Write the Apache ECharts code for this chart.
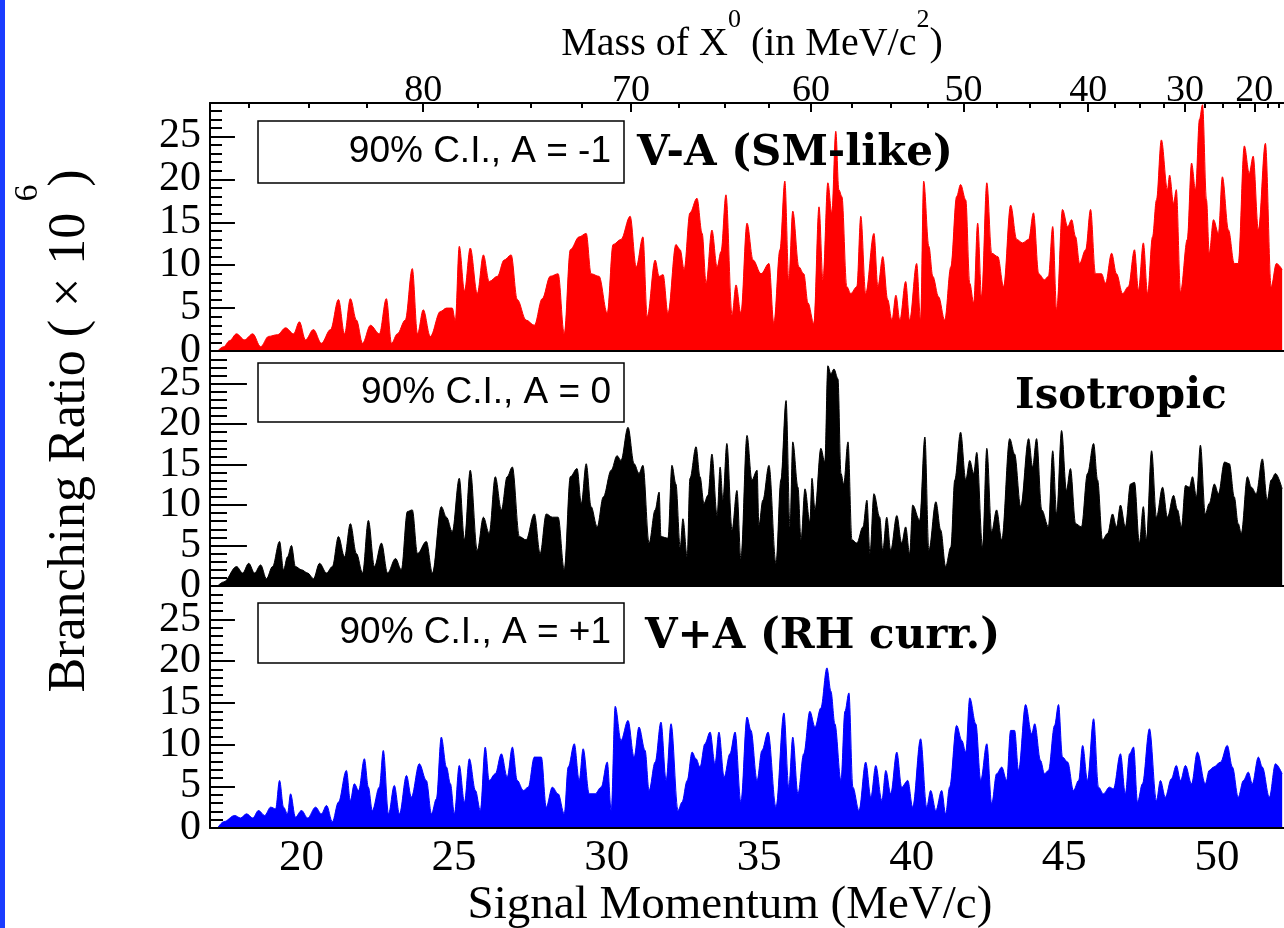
<!DOCTYPE html>
<html>
<head>
<meta charset="utf-8">
<script src="https://cdn.jsdelivr.net/npm/echarts@6/dist/echarts.min.js"></script>
<style>
  html, body { margin: 0; padding: 0; background: #fff; }
  #chart { width: 1284px; height: 928px; }
</style>
</head>
<body>
<div id="chart"></div>
<script>
// momentum (MeV/c) and 90% C.L. upper limit (x 10^-6)
const redP = [17.25,17.45,17.64,17.87,18.13,18.40,18.66,18.92,19.21,19.48,19.74,19.93,20.13,20.39,20.65,20.95,21.21,21.41,21.60,21.80,22.00,22.26,22.55,22.78,22.95,23.14,23.40,23.63,23.80,23.99,24.22,24.55,24.75,24.94,25.04,25.17,25.34,25.53,25.76,25.96,26.15,26.42,26.64,26.87,27.07,27.36,27.63,27.89,28.15,28.41,28.61,28.81,29.10,29.33,29.49,29.75,30.02,30.21,30.47,30.77,30.97,31.19,31.33,31.59,31.72,31.85,32.01,32.27,32.41,32.54,32.73,32.96,33.13,33.26,33.45,33.62,33.75,33.91,34.11,34.24,34.40,34.60,34.80,35.06,35.32,35.48,35.68,35.84,35.97,36.10,36.30,36.46,36.60,36.79,36.96,37.09,37.25,37.38,37.51,37.61,37.71,37.87,38.00,38.20,38.33,38.49,38.76,38.89,39.05,39.21,39.35,39.48,39.61,39.80,39.93,40.16,40.29,40.39,40.56,40.69,40.88,41.08,41.28,41.47,41.60,41.77,41.90,42.03,42.16,42.29,42.46,42.62,42.82,43.01,43.24,43.44,43.63,43.83,43.99,44.16,44.35,44.48,44.62,44.75,44.94,45.11,45.24,45.37,45.50,45.70,45.86,46.02,46.22,46.35,46.55,46.71,46.91,47.10,47.30,47.43,47.59,47.73,47.89,48.02,48.18,48.38,48.45,48.58,48.67,48.81,49.03,49.17,49.30,49.43,49.53,49.66,49.75,49.89,50.05,50.18,50.38,50.57,50.70,50.90,51.06,51.19,51.36,51.59,51.78,51.95,52.14];
const redV = [0,0.5,1.2,2.0,1.3,2.0,0.5,1.7,1.9,2.7,2.0,3.4,1.3,2.5,0.9,2.5,6.0,2.0,6.1,3.6,0.9,3.0,2.0,6.1,0.9,2.0,3.6,9.6,2.0,4.8,1.7,4.6,5.0,5.0,3.5,12.2,7.0,12.0,6.7,11.2,8.1,8.7,10.6,11.2,6.0,3.6,3.0,6.1,8.7,9.0,2.0,11.8,13.3,13.7,9.0,8.7,4.4,12.4,13.0,15.7,9.8,13.3,4.0,10.6,8.7,8.9,4.4,12.4,11.8,9.5,16.1,17.8,13.7,7.9,14.1,9.8,11.6,18.2,4.2,7.7,4.4,14.9,10.6,9.0,10.2,3.2,11.8,19.8,8.3,16.3,9.8,9.0,5.6,3.2,16.8,8.3,19.6,16.1,25.6,18.8,18.0,7.5,6.7,7.5,15.7,6.7,13.7,7.5,11.0,6.0,3.6,6.5,3.6,8.1,3.6,10.2,3.6,19.8,12.2,8.7,6.3,3.6,9.8,18.0,19.4,17.6,7.9,5.6,14.9,6.3,19.6,11.4,11.0,7.5,17.0,13.0,12.6,13.0,16.1,9.0,8.3,8.7,14.5,4.8,16.5,14.5,15.3,13.3,10.2,11.8,16.5,9.0,9.0,7.9,11.4,9.0,6.7,7.5,11.8,7.1,12.6,6.7,13.3,17.6,24.6,18.8,20.5,17.2,18.8,6.9,13.0,21.9,18.8,27.0,28.7,17.6,11.4,15.3,13.7,20.3,14.1,10.2,10.2,23.9,20.7,22.7,14.1,24.2,7.5,10.2,9.5];

const blackP = [17.25,17.45,17.87,18.07,18.27,18.46,18.66,18.85,19.05,19.28,19.41,19.54,19.67,19.80,20.00,20.20,20.39,20.59,20.82,21.01,21.21,21.41,21.60,21.80,22.00,22.19,22.39,22.62,22.82,23.08,23.27,23.47,23.63,23.80,24.09,24.29,24.58,24.75,24.94,25.17,25.34,25.53,25.76,25.96,26.15,26.35,26.55,26.74,26.91,27.14,27.36,27.63,27.82,28.02,28.22,28.41,28.61,28.81,29.03,29.17,29.33,29.49,29.69,29.89,30.15,30.34,30.47,30.70,30.90,31.06,31.19,31.39,31.59,31.72,31.78,32.01,32.14,32.27,32.41,32.50,32.64,32.73,32.93,33.06,33.19,33.32,33.45,33.62,33.72,33.81,33.94,34.11,34.27,34.40,34.60,34.76,34.93,34.99,35.12,35.32,35.55,35.71,35.88,36.01,36.10,36.27,36.37,36.50,36.66,36.73,36.83,37.02,37.15,37.25,37.35,37.45,37.58,37.68,37.77,37.91,38.04,38.20,38.40,38.53,38.63,38.76,38.95,39.05,39.18,39.31,39.51,39.67,39.80,39.93,40.03,40.26,40.43,40.56,40.79,40.95,41.11,41.28,41.41,41.60,41.77,41.90,42.03,42.13,42.32,42.46,42.62,42.78,42.95,43.21,43.37,43.57,43.83,43.96,44.09,44.26,44.48,44.62,44.75,44.91,45.07,45.20,45.37,45.56,45.76,45.96,46.09,46.25,46.42,46.58,46.71,46.84,47.00,47.17,47.30,47.46,47.59,47.69,47.86,48.02,48.22,48.38,48.58,48.71,48.84,48.97,49.10,49.20,49.33,49.46,49.62,49.75,49.92,50.05,50.25,50.41,50.57,50.70,50.80,51.00,51.13,51.29,51.49,51.65,51.78,51.92,52.14];
const blackV = [0,0.5,2.4,1.6,2.8,1.6,2.6,0.9,2.4,5.5,2.0,3.6,5.0,2.4,2.0,1.6,0.9,2.8,1.6,2.4,6.1,3.6,7.7,4.0,1.6,8.1,2.4,5.3,1.6,3.4,2.0,9.2,9.4,4.0,5.5,1.6,9.8,8.5,6.7,13.3,5.7,14.3,4.4,8.5,6.5,13.5,9.4,13.5,14.7,6.1,5.7,8.9,4.0,8.9,8.5,8.5,2.0,13.5,14.5,10.2,15.1,9.8,7.3,11.0,14.3,16.1,15.5,19.6,15.1,13.9,14.9,5.3,9.4,11.6,6.1,5.9,14.9,12.6,4.8,8.3,3.6,13.3,17.2,13.5,10.2,11.2,16.3,8.7,14.7,10.6,17.6,6.9,11.8,3.4,18.6,13.1,14.3,7.5,10.6,14.9,2.8,13.1,22.9,7.3,17.8,12.2,5.7,12.0,7.9,13.3,9.4,17.0,15.3,27.2,26.2,26.8,25.6,13.9,12.6,17.8,5.7,5.3,7.3,10.6,4.0,11.4,8.5,4.4,8.5,4.4,8.7,5.3,7.3,4.0,10.0,8.1,18.4,4.4,10.4,6.9,2.4,4.8,13.1,19.0,13.1,15.5,13.9,16.5,4.8,17.0,6.7,9.4,5.7,18.2,16.3,9.8,18.2,14.7,18.2,9.4,7.3,16.7,8.9,19.2,11.8,14.5,7.7,7.3,13.9,17.6,13.1,5.7,6.5,8.9,7.3,10.0,7.3,12.6,12.8,5.3,9.8,5.7,16.7,8.5,12.2,8.5,11.2,9.4,7.3,12.4,12.2,13.5,11.0,17.4,8.9,10.2,12.6,11.4,15.3,15.1,11.0,7.7,6.5,13.5,12.2,11.4,15.7,10.6,13.1,13.9,12.0];

const blueP = [17.25,17.45,17.81,18.00,18.20,18.40,18.59,18.79,18.99,19.15,19.28,19.41,19.54,19.64,19.80,20.00,20.20,20.46,20.65,20.82,21.01,21.21,21.47,21.60,21.73,21.87,22.06,22.19,22.32,22.55,22.68,22.85,23.04,23.21,23.44,23.60,23.86,24.09,24.26,24.42,24.58,24.75,24.88,25.01,25.17,25.34,25.50,25.70,25.86,26.02,26.15,26.35,26.55,26.74,26.91,27.07,27.27,27.43,27.63,27.86,28.02,28.22,28.41,28.61,28.74,28.94,29.10,29.23,29.43,29.62,29.82,30.02,30.15,30.28,30.47,30.70,30.90,31.06,31.26,31.39,31.59,31.78,31.95,32.11,32.34,32.47,32.64,32.80,32.93,33.06,33.22,33.39,33.55,33.68,33.85,34.04,34.21,34.40,34.60,34.73,34.93,35.09,35.29,35.55,35.81,35.97,36.10,36.27,36.46,36.66,36.83,37.02,37.22,37.35,37.48,37.68,37.81,37.94,38.07,38.27,38.49,38.66,38.82,39.02,39.15,39.31,39.51,39.67,39.87,40.03,40.29,40.49,40.62,40.79,40.98,41.11,41.24,41.47,41.64,41.77,41.90,42.10,42.26,42.46,42.62,42.78,42.95,43.11,43.24,43.37,43.50,43.73,43.93,44.03,44.22,44.35,44.48,44.68,44.81,44.94,45.11,45.30,45.47,45.60,45.76,45.96,46.12,46.28,46.48,46.61,46.84,47.00,47.14,47.27,47.40,47.56,47.79,48.02,48.15,48.31,48.51,48.67,48.81,48.97,49.17,49.36,49.62,49.75,49.89,50.12,50.34,50.51,50.70,50.87,51.03,51.16,51.36,51.49,51.72,51.92,52.14];
const blueV = [0,0.75,1.5,1.2,1.7,1.2,2.1,1.5,2.5,2.3,5.7,2.5,1.7,4.1,1.3,2.1,1.2,2.5,1.7,2.7,0.75,3.1,6.9,3.3,5.3,4.5,8.3,4.9,2.1,4.9,9.3,1.7,5.1,1.7,6.3,3.7,7.7,5.7,1.7,3.5,10.9,7.3,5.3,1.7,7.5,3.1,8.3,4.5,2.1,9.7,5.7,6.5,8.9,6.1,9.7,5.7,4.5,4.9,8.5,8.5,2.5,4.9,4.1,1.7,7.3,10.1,5.7,9.5,4.1,4.1,4.9,7.9,2.1,14.6,10.5,12.9,8.5,12.1,9.3,4.5,7.9,12.7,5.7,12.5,2.1,3.1,5.7,9.1,8.3,7.3,10.1,11.5,7.7,11.5,6.1,8.9,11.5,3.1,13.3,11.7,5.7,9.3,11.5,2.5,13.8,4.9,10.9,4.1,8.9,14.0,12.1,14.4,19.2,16.4,12.5,5.7,14.0,16.2,4.9,2.1,7.9,3.7,7.5,3.3,6.9,4.1,9.1,4.9,5.7,2.5,10.7,2.5,4.5,2.1,4.5,1.7,4.9,12.3,10.5,9.1,15.6,12.5,5.7,10.1,2.9,6.5,7.3,5.7,11.7,11.7,6.9,14.8,11.3,12.5,8.1,6.5,6.9,12.3,14.8,8.5,7.9,4.5,5.7,9.9,5.7,13.1,4.9,4.1,4.9,4.7,8.9,4.1,8.9,9.7,3.1,5.3,11.9,3.3,5.7,3.7,5.9,7.5,5.7,7.5,5.3,9.1,5.3,6.9,7.3,7.9,9.9,7.3,3.7,5.7,6.7,5.3,8.5,7.3,3.7,7.7,6.5];

// tick labels
const pTicks = [20, 25, 30, 35, 40, 45, 50];
const yTicksEven = [0, 10, 20];
const yTicksOdd = [5, 15, 25];
const yMajorTicks = [5, 10, 15, 20, 25];
const yMinorTicks = [1,2,3,4,6,7,8,9,11,12,13,14,16,17,18,19,21,22,23,24,26,27,28];
const massTicks = [80, 70, 60, 50, 40, 30, 20];
const massMinorTicks = [87.5,85,82.5,77.5,75,72.5,67.5,65,62.5,57.5,55,52.5,47.5,45,42.5,37.5,35,32.5,27.5,25,22.5,17.5,15];

const P_MIN = 17, P_MAX = 52.2, Y_MAX = 28.9;
const GRID_W = 1076;
const PX_PER_P = GRID_W / (P_MAX - P_MIN);

// mass <-> momentum scale of the top axis (two-body kinematics fitted to the printed ticks)
const M_EFF = 110.13, P_OFF = 2.02;
const massToP = m => (M_EFF * M_EFF - m * m) / (2 * M_EFF) - P_OFF;
const pToMass = p => Math.sqrt(M_EFF * M_EFF - 2 * M_EFF * (p + P_OFF));

const serif = 'Liberation Serif';
const black = '#000';
const tickStyle = { color: black, width: 2 };
const off = { show: false };

function xLine(gi, pos, label) {
    return {
        type: 'value', gridIndex: gi, min: P_MIN, max: P_MAX, z: 5, position: pos,
        axisLine: { show: true, onZero: false, lineStyle: { color: black, width: 2 } },
        axisTick: off, axisLabel: label || off, splitLine: off
    };
}
function xTicks(gi, pos, values, len) {
    return {
        type: 'value', gridIndex: gi, min: P_MIN, max: P_MAX, z: 5, position: pos,
        axisLine: { show: false, onZero: false },
        axisTick: { show: true, inside: true, length: len, customValues: values, lineStyle: tickStyle },
        axisLabel: off, splitLine: off
    };
}

// y labels are split over two axes so that none of them gets dropped for overlapping
function yLabels(gi, values, withLine) {
    return {
        type: 'value', gridIndex: gi, min: 0, max: Y_MAX, z: 5, position: 'left',
        axisLine: { show: withLine, onZero: false, lineStyle: { color: black, width: 2 } },
        axisTick: off,
        axisLabel: { show: true, customValues: values, showMinLabel: true, showMaxLabel: true,
                     fontFamily: serif, fontSize: 42, color: black, margin: 9 },
        splitLine: off
    };
}
function yTicks(gi, values, len) {
    return {
        type: 'value', gridIndex: gi, min: 0, max: Y_MAX, z: 5, position: 'left',
        axisLine: { show: false, onZero: false },
        axisTick: { show: true, inside: true, length: len, customValues: values, lineStyle: tickStyle },
        axisLabel: off, splitLine: off
    };
}
function yAxesFor(gi, minorLen) {
    return [
        yLabels(gi, yTicksEven, true),
        yLabels(gi, yTicksOdd, false),
        yTicks(gi, yMinorTicks, minorLen)
    ];
}

// long major ticks drawn as mark lines in data space
function yMajorMarks(lenPx) {
    const len = lenPx / PX_PER_P;
    return yMajorTicks.map(v => [{ coord: [P_MIN, v] }, { coord: [P_MIN + len, v] }]);
}
function topMajorMarks(lenPx, panelPx) {
    const len = lenPx * Y_MAX / panelPx;
    return massTicks.map(m => [{ coord: [massToP(m), Y_MAX] }, { coord: [massToP(m), Y_MAX - len] }]);
}

function areaSeries(P, V, color, xi, yi, marks) {
    return {
        type: 'line', xAxisIndex: xi, yAxisIndex: yi,
        data: P.map((p, i) => [p, V[i]]),
        symbol: 'none', smooth: 0.35, smoothMonotone: 'x',
        lineStyle: { color: color, width: 1 },
        itemStyle: { color: color },
        areaStyle: { color: color, opacity: 1 },
        markLine: {
            silent: true, symbol: ['none', 'none'], label: off, animation: false,
            lineStyle: { color: black, width: 2, type: 'solid' },
            emphasis: { disabled: true },
            data: marks
        }
    };
}

function legendBox(y, h, label) {
    return [
        { type: 'rect', z: 10, shape: { x: 258, y: y, width: 366, height: h },
          style: { fill: '#fff', stroke: black, lineWidth: 1.5 } },
        { type: 'text', z: 11, x: 611, y: y + h / 2,
          style: { text: label, fontFamily: 'Liberation Sans', fontSize: 37, fill: black,
                   align: 'right', verticalAlign: 'middle' } }
    ];
}

function tag(x, y, label) {
    return { type: 'text', z: 11, x: x, y: y,
             style: { text: label, fontFamily: 'DejaVu Serif', fontWeight: 'bold', fontSize: 42,
                      fill: black, align: 'left', verticalAlign: 'middle' } };
}

const chart = echarts.init(document.getElementById('chart'));

chart.setOption({
    backgroundColor: '#fff',
    animation: false,
    grid: [
        { left: 210, top: 103, width: GRID_W, height: 248 },
        { left: 210, top: 352, width: GRID_W, height: 234 },
        { left: 210, top: 587, width: GRID_W, height: 241 }
    ],
    xAxis: [
        xLine(0, 'bottom'),
        xLine(1, 'bottom'),
        xLine(2, 'bottom', { show: true, customValues: pTicks, fontFamily: serif, fontSize: 45,
                             color: black, margin: 8 }),
        xLine(0, 'top', { show: true, customValues: massTicks.map(massToP),
                          formatter: v => String(Math.round(pToMass(v))),
                          fontFamily: serif, fontSize: 38, color: black, margin: -7 }),
        xTicks(0, 'top', massMinorTicks.map(massToP), 5)
    ],
    yAxis: [].concat(yAxesFor(0, 12), yAxesFor(1, 17), yAxesFor(2, 13)),
    series: [
        areaSeries(redP, redV, '#ff0000', 0, 0, yMajorMarks(25).concat(topMajorMarks(9, 248))),
        areaSeries(blackP, blackV, '#000000', 1, 3, yMajorMarks(37)),
        areaSeries(blueP, blueV, '#0000ff', 2, 6, yMajorMarks(25))
    ],
    graphic: [
        { type: 'rect', z: 10, shape: { x: 0, y: 0, width: 5, height: 928 }, style: { fill: '#1a3cff' } },
        ...legendBox(121, 62, '90% C.I., A = -1'),
        ...legendBox(363, 59, '90% C.I., A = 0'),
        ...legendBox(603, 60, '90% C.I., A = +1'),
        tag(637, 154, 'V-A (SM-like)'),
        tag(1015, 397, 'Isotropic'),
        tag(645, 637, 'V+A (RH curr.)'),
        { type: 'text', z: 11, x: 752, y: 34,
          style: {
              text: '{a|Mass of X}{s|0}{a| (in MeV/c}{s|2}{a|)}',
              align: 'center', verticalAlign: 'middle',
              rich: {
                  a: { fontFamily: serif, fontSize: 40, lineHeight: 60, verticalAlign: 'bottom', fill: black },
                  s: { fontFamily: serif, fontSize: 26, verticalAlign: 'top', padding: [3, 0, 0, 0], fill: black }
              }
          } },
        { type: 'text', z: 11, x: 730, y: 906,
          style: { text: 'Signal Momentum (MeV/c)', fontFamily: serif, fontSize: 47, fill: black,
                   align: 'center', verticalAlign: 'middle' } },
        { type: 'text', z: 11, x: 70, y: 431, rotation: Math.PI / 2,
          style: { text: 'Branching Ratio ( \u00d7 10  )', fontFamily: serif, fontSize: 52, fill: black,
                   align: 'center', verticalAlign: 'middle' } },
        { type: 'text', z: 11, x: 28, y: 193, rotation: Math.PI / 2,
          style: { text: '6', fontFamily: serif, fontSize: 34, fill: black,
                   align: 'center', verticalAlign: 'middle' } }
    ]
});
</script>
</body>
</html>
